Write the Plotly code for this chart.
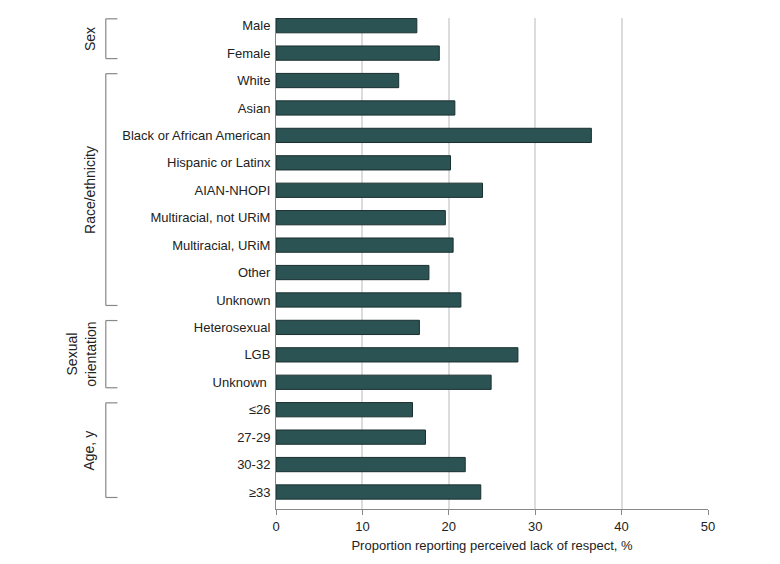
import plotly.graph_objects as go

categories = ["Male", "Female",
              "White", "Asian", "Black or African American", "Hispanic or Latinx",
              "AIAN-NHOPI", "Multiracial, not URiM", "Multiracial, URiM", "Other", "Unknown",
              "Heterosexual", "LGB", "Unknown ",
              "≤26", "27-29", "30-32", "≥33"]
values = [16.3, 18.9,
          14.2, 20.7, 36.5, 20.2, 23.9, 19.6, 20.5, 17.7, 21.4,
          16.6, 28.0, 24.9,
          15.8, 17.3, 21.9, 23.7]

# group label, first index, last index
groups = [("Sex", 0, 1), ("Race/ethnicity", 2, 10),
          ("Sexual<br>orientation", 11, 13), ("Age, y", 14, 17)]

FONT = "Liberation Sans, Arial, sans-serif"

fig = go.Figure(go.Bar(
    x=values,
    y=list(range(len(categories))),
    orientation="h",
    width=0.52,
    marker=dict(color="#2b5353", line=dict(color="#1a2f2f", width=1)),
))

fig.update_yaxes(
    tickmode="array",
    tickvals=list(range(len(categories))),
    ticktext=categories,
    range=[len(categories) - 0.38, -0.28],
    showgrid=False,
    showline=True,
    linecolor="#888888",
    linewidth=1,
    ticks="",
    ticklabelstandoff=2,
    tickfont=dict(size=13, color="#222222", family=FONT),
)
fig.update_xaxes(
    range=[0, 50],
    tick0=0, dtick=10,
    showgrid=True,
    gridcolor="#dcdcdc",
    gridwidth=1.5,
    showline=True,
    linecolor="#888888",
    linewidth=1,
    ticks="outside",
    ticklen=5,
    tickcolor="#888888",
    zeroline=False,
    tickfont=dict(size=13, color="#222222", family=FONT),
    title=dict(text="Proportion reporting perceived lack of respect, %",
               font=dict(size=13, color="#222222", family=FONT), standoff=8),
)

shapes = []
annotations = []
for label, i0, i1 in groups:
    y0 = i0 - 0.25
    y1 = i1 + 0.2
    xa, xb = -0.394, -0.367
    for seg in [(xa, y0, xa, y1), (xa, y0, xb, y0), (xa, y1, xb, y1)]:
        shapes.append(dict(type="line", xref="paper", yref="y",
                           x0=seg[0], y0=seg[1], x1=seg[2], y1=seg[3],
                           line=dict(color="#888888", width=1.2)))
    two_lines = "<br>" in label
    annotations.append(dict(text=label, xref="paper", yref="y",
                            x=-0.45 if two_lines else -0.432,
                            y=(y0 + y1) / 2, xanchor="center", yanchor="middle",
                            textangle=-90, showarrow=False,
                            font=dict(size=14, color="#222222", family=FONT)))

fig.update_layout(
    width=780, height=564,
    margin=dict(l=268, r=80, t=10, b=63),
    plot_bgcolor="white",
    paper_bgcolor="white",
    showlegend=False,
    bargap=0.48,
    shapes=shapes,
    annotations=annotations,
)

fig.write_html("out.html")
